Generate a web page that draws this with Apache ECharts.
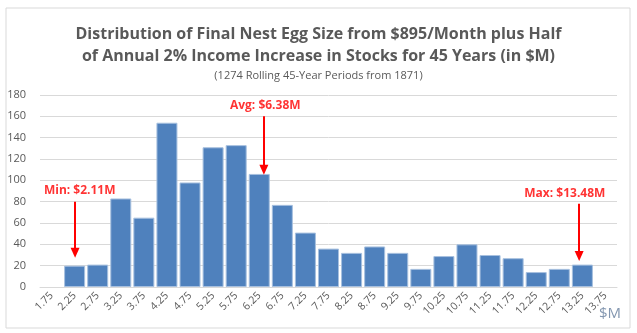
<!DOCTYPE html>
<html><head><meta charset="utf-8">
<script src="https://cdn.jsdelivr.net/npm/echarts@6/dist/echarts.min.js"></script>
<style>html,body{margin:0;padding:0;background:#fff}#c{width:637px;height:333px}</style>
</head><body><div id="c"></div>
<script>
const categories = ['1.75','2.25','2.75','3.25','3.75','4.25','4.75','5.25','5.75','6.25','6.75','7.25','7.75','8.25','8.75','9.25','9.75','10.25','10.75','11.25','11.75','12.25','12.75','13.25','13.75'];
const counts = [0,20,21,83,65,154,98,131,133,106,77,51,36,32,38,32,17,29,40,30,27,14,17,21,0];
const yTicks = {min:0, max:180, interval:20};
// annotations: [x value ($M scale), arrow top, arrow bottom, label]
const annotations = [
  {x:2.26, y1:80, y2:32, label:'Min: $2.11M', lx:2.36},
  {x:6.35, y1:160, y2:110, label:'Avg: $6.38M', lx:6.38},
  {x:13.18, y1:78, y2:29, label:'Max: $13.48M', lx:12.87}
];
const titleLines = ['Distribution of Final Nest Egg Size from $895/Month plus Half','of Annual 2% Income Increase in Stocks for 45 Years (in $M)'];
const subtitle = '(1274 Rolling 45-Year Periods from 1871)';

const chart = echarts.init(document.getElementById('c'), null, {renderer:'canvas'});
const FONT = 'Open Sans';
const markData = [];
annotations.forEach(a => {
  markData.push([{coord:[a.x,a.y1], symbol:'none'},{coord:[a.x,a.y2], symbol:'triangle'}]);
});
const labelPts = annotations.map(a => ({value:[a.lx, a.y1 + 10], name:a.label}));
chart.setOption({
  animation:false,
  graphic:[
    {type:'rect', shape:{x:6,y:8,width:624,height:320}, style:{fill:'none', stroke:'#d9d9d9', lineWidth:1}, silent:true},
    {type:'text', left:599, top:306, style:{text:'$M', fontFamily:FONT, fontSize:15, fill:'#8497b0'}}
  ],
  title:[
    {text:titleLines.join('\n'), left:'center', top:18, textStyle:{fontFamily:FONT, fontSize:16, fontWeight:'bold', color:'#595959', lineHeight:22}},
    {text:subtitle, left:'center', top:65, textStyle:{fontFamily:FONT, fontSize:11, fontWeight:'normal', color:'#595959'}}
  ],
  grid:{left:40, right:20, top:95, bottom:46, containLabel:false},
  xAxis:[
    {type:'category', data:categories, axisTick:{show:false}, axisLine:{lineStyle:{color:'#d9d9d9'}},
     axisLabel:{rotate:45, interval:0, fontFamily:FONT, fontSize:10.5, color:'#595959', margin:7}},
    {type:'value', min:1.5, max:14, show:false}
  ],
  yAxis:{type:'value', min:yTicks.min, max:yTicks.max, interval:yTicks.interval,
    axisLine:{show:false}, axisTick:{show:false},
    axisLabel:{fontFamily:FONT, fontSize:11, color:'#595959', margin:14},
    splitLine:{lineStyle:{color:'#d9d9d9', width:1}}},
  series:[
    {type:'bar', data:counts.map(v => v === 0 ? '-' : v), barCategoryGap:'9%', xAxisIndex:0,
     itemStyle:{color:'#4f81bd', borderColor:'#a7c0df', borderWidth:1}},
    {type:'scatter', xAxisIndex:1, data:labelPts, symbolSize:0,
     label:{show:true, formatter:p=>p.name, position:'inside', fontFamily:FONT, fontSize:12, fontWeight:'bold', color:'#ff0000'},
     markLine:{silent:true, symbolSize:[9,10], lineStyle:{color:'#ff0000', width:2, type:'solid'}, label:{show:false}, data:markData}}
  ]
});
</script></body></html>
